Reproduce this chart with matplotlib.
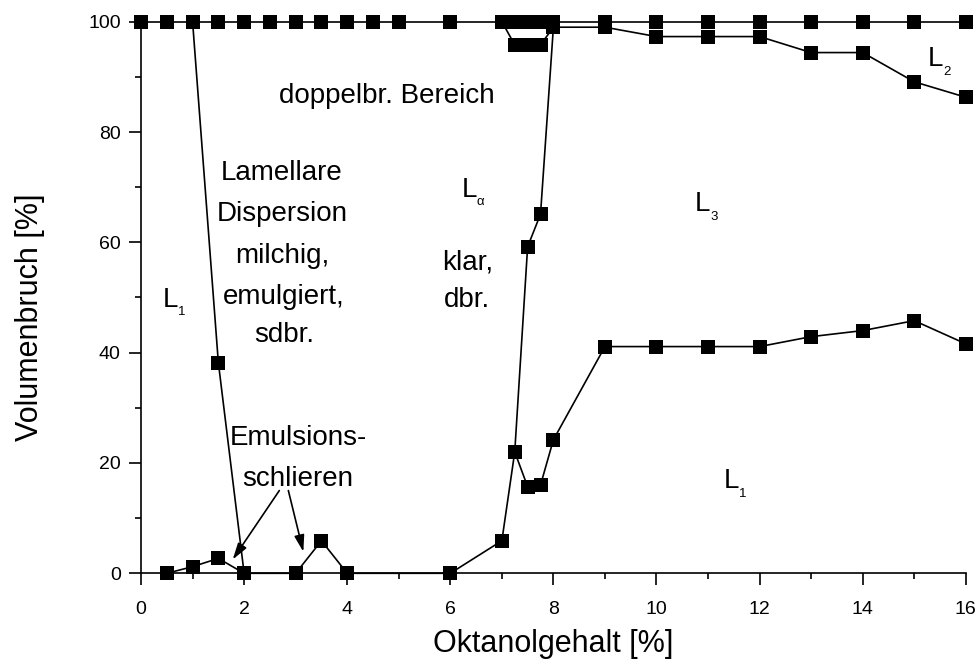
import matplotlib
matplotlib.use("Agg")
import matplotlib.pyplot as plt
from matplotlib.ticker import MultipleLocator

plt.rcParams['font.family'] = ['Liberation Sans', 'DejaVu Sans']

# top boundary (100 %)
top_x = [0, 0.5, 1, 1.5, 2, 2.5, 3, 3.5, 4, 4.5, 5, 6, 7, 7.25, 7.5, 7.75, 8, 9, 10, 11, 12, 13, 14, 15, 16]
top_y = [100] * len(top_x)

# L3 / L2 boundary
l2_x = [7, 7.25, 7.5, 7.75, 8, 9, 10, 11, 12, 13, 14, 15, 16]
l2_y = [100, 95.8, 95.8, 95.8, 99.0, 99.0, 97.3, 97.3, 97.3, 94.4, 94.4, 89.1, 86.3]

# L1 / lamellar boundary
lam_x = [1, 1.5, 2]
lam_y = [100, 38.2, 0]

# L_alpha boundary
la_x = [7.25, 7.5, 7.75, 8]
la_y = [22.0, 59.2, 65.1, 99.0]

# lower boundary
low_x = [0.5, 1, 1.5, 2, 3, 3.5, 4, 6, 7, 7.25, 7.5, 7.75, 8, 9, 10, 11, 12, 13, 14, 15, 16]
low_y = [0, 1.2, 2.7, 0, 0, 5.9, 0, 0, 5.9, 22.0, 15.7, 16.0, 24.2, 41.1, 41.1, 41.1, 41.1, 42.9, 44.0, 45.8, 41.6]

fig = plt.figure(figsize=(9.78, 6.65), dpi=100)
ax = fig.add_axes([0.1442, 0.1379, 0.8433, 0.8295])

style = dict(color='black', marker='s', markersize=9.5, linewidth=1.2, clip_on=False,
             markeredgewidth=0)
for xs, ys in [(top_x, top_y), (l2_x, l2_y), (lam_x, lam_y), (la_x, la_y), (low_x, low_y)]:
    ax.plot(xs, ys, **style)

ax.set_xlim(0, 16)
ax.set_ylim(0, 100)
for s in ['top', 'right']:
    ax.spines[s].set_visible(False)
for s in ['left', 'bottom']:
    ax.spines[s].set_linewidth(1.2)

ax.xaxis.set_major_locator(MultipleLocator(2))
ax.xaxis.set_minor_locator(MultipleLocator(1))
ax.yaxis.set_major_locator(MultipleLocator(20))
ax.yaxis.set_minor_locator(MultipleLocator(10))
ax.tick_params(which='major', length=8.6, width=1.2, labelsize=14, direction='out')
ax.tick_params(which='minor', length=4.5, width=1.2, direction='out')
ax.tick_params(axis='x', which='major', pad=11)
ax.tick_params(axis='y', which='major', pad=6)

ax.set_xlabel('Oktanolgehalt [%]', fontsize=22, labelpad=8)
ax.set_ylabel('Volumenbruch [%]', fontsize=22)
ax.yaxis.set_label_coords(-0.117, 0.464)

fs = 20
txt = dict(fontsize=fs, ha='center', va='baseline')
ax.text(4.767, 85.2, 'doppelbr. Bereich', **txt)
ax.text(2.73, 71.3, 'Lamellare', **txt)
ax.text(2.73, 63.8, 'Dispersion', **txt)
ax.text(2.75, 56.3, 'milchig,', **txt)
ax.text(2.76, 48.9, 'emulgiert,', **txt)
ax.text(2.774, 42.0, 'sdbr.', **txt)
ax.text(6.345, 55.0, 'klar,', **txt)
ax.text(6.319, 48.3, 'dbr.', **txt)
ax.text(3.06, 23.3, 'Emulsions-', **txt)
ax.text(3.036, 15.8, 'schlieren', **txt)

# phase labels with subscripts
phases = [(0.421, 48.3, '1'), (6.222, 68.3, 'α'), (10.749, 65.6, '3'),
          (15.264, 91.9, '2'), (11.31, 15.4, '1')]
for x, y, sub in phases:
    ax.text(x, y, 'L', fontsize=fs, ha='left', va='baseline')
    ax.annotate(sub, xy=(x, y), xytext=(10.8, -6.0), textcoords='offset points',
                fontsize=9.5, ha='left', va='baseline')

# arrows
arrowprops = dict(arrowstyle='-|>,head_length=1.0,head_width=0.3', color='black', lw=1.2,
                  shrinkA=0, shrinkB=0)
ax.annotate('', xy=(1.779, 2.5), xytext=(2.683, 15.0), arrowprops=arrowprops)
ax.annotate('', xy=(3.149, 3.9), xytext=(2.858, 15.0), arrowprops=arrowprops)

fig.savefig('out.png', dpi=100)
